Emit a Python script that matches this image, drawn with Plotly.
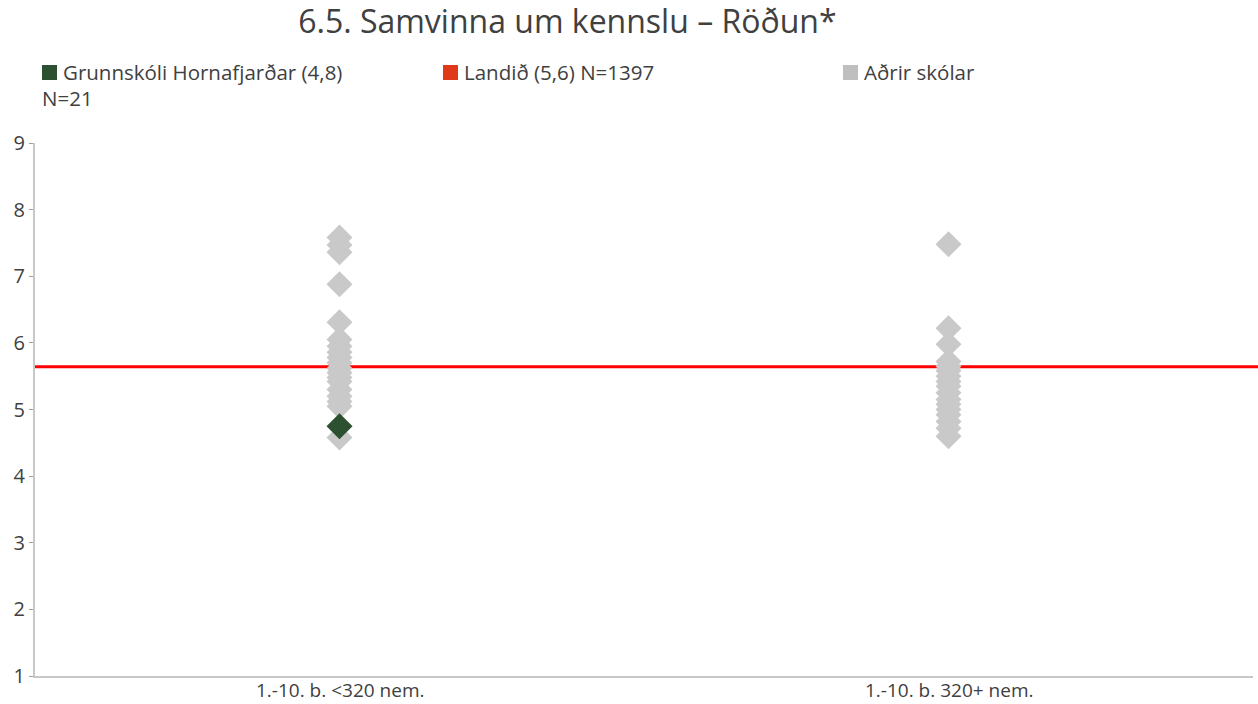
import plotly.graph_objects as go

# Categories on the x axis
categories = ["1.-10. b. <320 nem.", "1.-10. b. 320+ nem."]

# Scores of the other schools in each size group
others_small = [7.58, 7.47, 7.36, 6.88, 6.31, 6.05, 5.95, 5.86, 5.78, 5.70, 5.62,
                5.55, 5.48, 5.42, 5.30, 5.20, 5.12, 5.05, 4.58]
others_large = [7.48, 6.22, 5.98, 5.72, 5.65, 5.58, 5.50, 5.42, 5.35, 5.25, 5.15,
                5.08, 5.00, 4.92, 4.82, 4.72, 4.60]

# The school itself and the national average
school_name = "Grunnskóli Hornafjarðar"
school_category = categories[0]
school_value = 4.75
school_n = 21
national_value = 5.64
national_n = 1397

title_text = "6.5. Samvinna um kennslu – Röðun*"
y_ticks = [1, 2, 3, 4, 5, 6, 7, 8, 9]

FONT = "Open Sans"
TEXT = "#404040"
GREY = "#c9c9c9"
GREEN = "#2d5130"
RED = "#ff0000"
LEG_RED = "#e0391a"
LEG_GREY = "#bfbfbf"

W, H = 1258, 704
L, R, T, B = 35, 5, 143, 28


def fmt(v):
    return f"{v:.1f}".replace(".", ",")


def px(xp, yp):
    """Pixel position -> paper coordinates."""
    return (xp - L) / (W - L - R), 1 - (yp - T) / (H - T - B)


fig = go.Figure()
fig.add_trace(go.Scatter(
    x=[categories[0]] * len(others_small) + [categories[1]] * len(others_large),
    y=others_small + others_large,
    mode="markers", marker=dict(symbol="diamond", size=20, color=GREY),
    showlegend=False, hoverinfo="y"))
fig.add_trace(go.Scatter(
    x=[school_category], y=[school_value],
    mode="markers", marker=dict(symbol="diamond", size=20, color=GREEN),
    showlegend=False, hoverinfo="y"))

shapes = [dict(type="line", xref="paper", yref="y", x0=0, x1=1.01,
               y0=national_value, y1=national_value,
               line=dict(color=RED, width=3), layer="below")]

legend_items = [
    (42, f"{school_name} ({fmt(school_value)})", GREEN),
    (443, f"Landið ({fmt(national_value)}) N={national_n}", LEG_RED),
    (843, "Aðrir skólar", LEG_GREY),
]
annotations = []
for xp, label, col in legend_items:
    x0, y0 = px(xp, 65)
    x1, y1 = px(xp + 15, 80)
    shapes.append(dict(type="rect", xref="paper", yref="paper", x0=x0, x1=x1,
                       y0=y1, y1=y0, fillcolor=col, line=dict(width=0)))
    tx, ty = px(xp + 19, 72)
    annotations.append(dict(xref="paper", yref="paper", x=tx, y=ty, text=label,
                            showarrow=False, xanchor="left", yanchor="middle",
                            font=dict(family=FONT, size=20.5, color=TEXT)))
nx, ny = px(40, 98)
annotations.append(dict(xref="paper", yref="paper", x=nx, y=ny, text=f"N={school_n}",
                        showarrow=False, xanchor="left", yanchor="middle",
                        font=dict(family=FONT, size=20.5, color=TEXT)))

# Category labels under the axis line, placed on the category axis
_, label_y = px(0, 690)
for cat in categories:
    annotations.append(dict(xref="x", yref="paper", x=cat, y=label_y, text=cat,
                            showarrow=False, xanchor="center", yanchor="middle",
                            font=dict(family=FONT, size=19, color=TEXT)))

fig.update_layout(
    width=W, height=H,
    margin=dict(l=L, r=R, t=T, b=B, autoexpand=False),
    paper_bgcolor="white", plot_bgcolor="white",
    title=dict(text=title_text, x=0.451, xanchor="center", y=1 - 22 / H, yanchor="middle",
               font=dict(family=FONT, size=32, color=TEXT)),
    font=dict(family=FONT, color=TEXT),
    shapes=shapes, annotations=annotations,
    xaxis=dict(type="category", categoryorder="array", categoryarray=categories,
               range=[-0.5, 1.5], showgrid=False, zeroline=False, automargin=False,
               showline=True, linecolor="#c8c8c8", linewidth=2,
               ticks="", showticklabels=False),
    yaxis=dict(range=[1, 9], tickvals=y_ticks, showgrid=False, zeroline=False,
               automargin=False,
               showline=True, linecolor="#c8c8c8", linewidth=2,
               ticks="outside", ticklen=4, tickcolor="#a0a0a0", tickwidth=1,
               tickfont=dict(family=FONT, size=20, color=TEXT)),
)

fig.write_html("out.html")
